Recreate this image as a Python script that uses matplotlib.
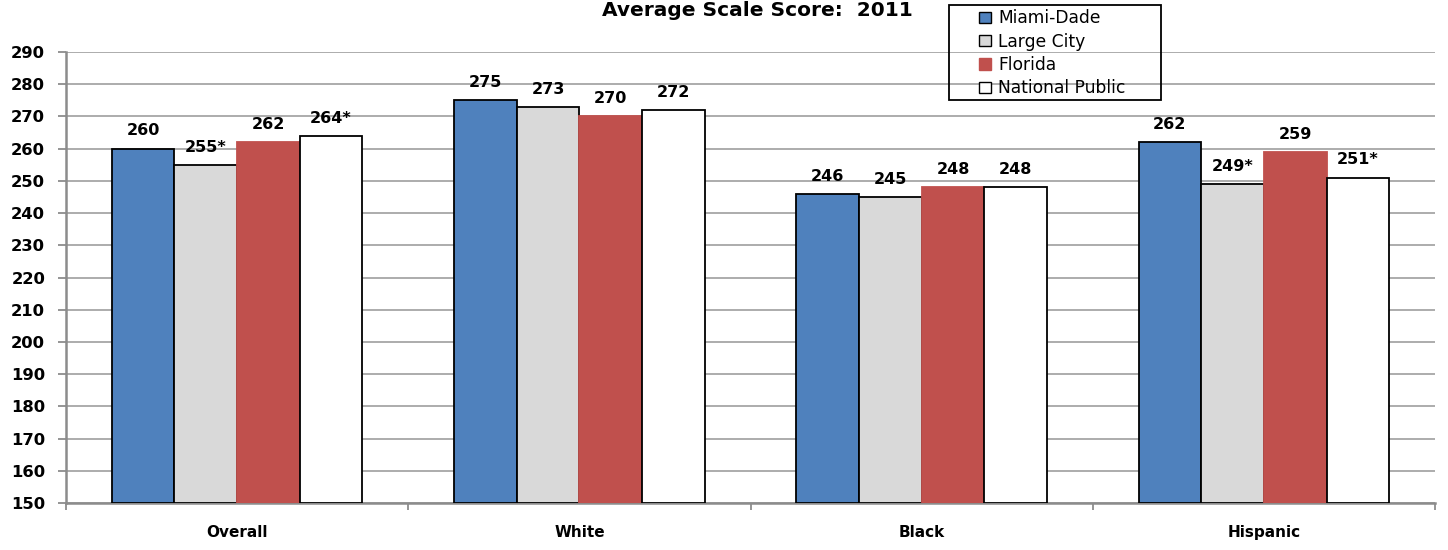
import matplotlib
matplotlib.use("Agg")
import matplotlib.pyplot as plt
import numpy as np
from matplotlib.patches import Patch, Rectangle

categories = ["Overall", "White", "Black", "Hispanic"]
series_names = ["Miami-Dade", "Large City", "Florida", "National Public"]
miami_dade = [260, 275, 246, 262]
large_city = [255, 273, 245, 249]
florida = [262, 270, 248, 259]
national_public = [264, 272, 248, 251]
significant = {
    "Miami-Dade": [False, False, False, False],
    "Large City": [True, False, False, True],
    "Florida": [False, False, False, False],
    "National Public": [True, False, False, True],
}
y_ticks = list(range(150, 291, 10))

colors = ["#4F81BD", "#D9D9D9", "#C0504D", "#FFFFFF"]
edges = ["black", "black", "#C0504D", "black"]
series_values = [miami_dade, large_city, florida, national_public]

plt.rcParams['font.family'] = ['DejaVu Sans']

W, H = 1448, 550
fig = plt.figure(figsize=(W / 100, H / 100), dpi=100)
ax = fig.add_axes([66 / W, 1 - 503 / H, (1435 - 66) / W, (503 - 52) / H])

x = np.arange(len(categories))
width = 0.183
offsets = (np.arange(4) - 1.5) * width

for i, (name, vals) in enumerate(zip(series_names, series_values)):
    bars = ax.bar(x + offsets[i], np.array(vals) - 150, width, bottom=150,
                  color=colors[i], edgecolor=edges[i], linewidth=1.3, zorder=3)
    for j, b in enumerate(bars):
        lbl = f"{vals[j]}" + ("*" if significant[name][j] else "")
        ax.annotate(lbl, (b.get_x() + b.get_width() / 2, vals[j]),
                    xytext=(0, 9.5), textcoords="offset points",
                    ha="center", va="baseline", fontsize=11.5,
                    fontweight="bold", zorder=4)

ax.set_ylim(150, 290)
ax.set_xlim(-0.5, len(categories) - 0.5)
ax.set_yticks(y_ticks)
ax.set_yticklabels([str(t) for t in y_ticks], fontsize=11.8, fontweight="bold")
ax.yaxis.grid(True, color="#A6A6A6", linewidth=1.3, zorder=0)
ax.set_axisbelow(True)

ax.set_xticks(np.arange(-0.5, len(categories), 1.0))
ax.set_xticklabels([])
ax.set_xticks(x, minor=True)
ax.set_xticklabels(categories, minor=True, fontsize=11, fontweight="bold")
ax.tick_params(axis="x", which="minor", length=0, pad=16)
ax.tick_params(axis="x", which="major", length=5, color="#8C8C8C", width=1.3,
               direction="out")
ax.tick_params(axis="y", length=6, color="#8C8C8C", width=1.3, pad=9)

for side in ["top", "right"]:
    ax.spines[side].set_visible(False)
for side in ["left", "bottom"]:
    ax.spines[side].set_color("#8C8C8C")
    ax.spines[side].set_linewidth(1.8)

fig.text(757 / W, 1 - 16 / H, "Average Scale Score:  2011", ha="center",
         va="baseline", fontsize=14.5, fontweight="bold")

# Legend: transparent, with its own outline box
box = Rectangle((949 / W, 1 - 100 / H), (1161 - 949) / W, 95 / H,
                transform=fig.transFigure, facecolor="none",
                edgecolor="black", linewidth=1.3, zorder=5)
fig.add_artist(box)

handles = [Patch(facecolor=colors[i], edgecolor=edges[i] if i != 2 else colors[i],
                 linewidth=1.0) for i in range(4)]
leg = fig.legend(handles, series_names, loc="upper left",
                 bbox_to_anchor=(976 / W, 1 - 6 / H), frameon=False,
                 fontsize=12.3, handlelength=0.65, handleheight=0.65,
                 handletextpad=0.45, labelspacing=0.31, borderpad=0.2,
                 borderaxespad=0)

fig.savefig("out.png", dpi=100, facecolor="white")
